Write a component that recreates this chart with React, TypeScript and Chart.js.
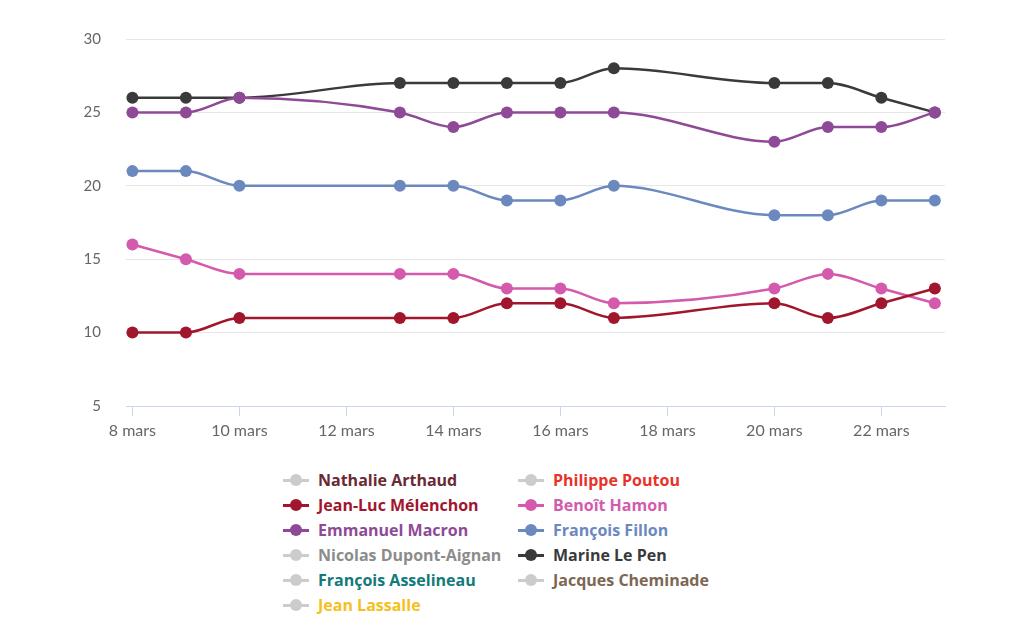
import React, { useEffect, useRef } from "react";
import { Chart, registerables } from "chart.js";

Chart.register(...registerables);

const days = [8, 9, 10, 13, 14, 15, 16, 17, 20, 21, 22, 23];
const tickDays = [8, 10, 12, 14, 16, 18, 20, 22];
const yTicks = [5, 10, 15, 20, 25, 30];

const lePen = [26, 26, 26, 27, 27, 27, 27, 28, 27, 27, 26, 25];
const macron = [25, 25, 26, 25, 24, 25, 25, 25, 23, 24, 24, 25];
const fillon = [21, 21, 20, 20, 20, 19, 19, 20, 18, 18, 19, 19];
const hamon = [16, 15, 14, 14, 14, 13, 13, 12, 13, 14, 13, 12];
const melenchon = [10, 10, 11, 11, 11, 12, 12, 11, 12, 11, 12, 13];

const seriesNames = ["Jean-Luc Mélenchon", "Emmanuel Macron", "Benoît Hamon", "François Fillon", "Marine Le Pen"];
const seriesValues = [melenchon, macron, hamon, fillon, lePen];
const seriesColors = ["#a0162d", "#8e4a96", "#d45aad", "#6b88bf", "#3a3a3a"];

const legendCol1 = [
  { name: "Nathalie Arthaud", color: "#6b2a33", active: false },
  { name: "Jean-Luc Mélenchon", color: "#a0162d", active: true },
  { name: "Emmanuel Macron", color: "#8e4a96", active: true },
  { name: "Nicolas Dupont-Aignan", color: "#8c8c8c", active: false },
  { name: "François Asselineau", color: "#137a7c", active: false },
  { name: "Jean Lassalle", color: "#f5bf1d", active: false },
];
const legendCol2 = [
  { name: "Philippe Poutou", color: "#e8322a", active: false },
  { name: "Benoît Hamon", color: "#d45aad", active: true },
  { name: "François Fillon", color: "#6b88bf", active: true },
  { name: "Marine Le Pen", color: "#3a3a3a", active: true },
  { name: "Jacques Cheminade", color: "#7d6753", active: false },
];

const FONT = "Lato, 'Open Sans', sans-serif";
const LEGEND_FONT = "'Open Sans', Lato, sans-serif";

function LegendItem({ item, left, top }: { item: any; left: number; top: number }) {
  const mk = item.active ? item.color : "#cccccc";
  return (
    <div style={{ position: "absolute", left, top, height: 24, display: "flex", alignItems: "center" }}>
      <div style={{ position: "relative", width: 26, height: 24 }}>
        <div style={{ position: "absolute", left: 0, top: 11, width: 26, height: 2.5, background: mk }} />
        <div style={{ position: "absolute", left: 7, top: 6, width: 12, height: 12, borderRadius: 6, background: mk }} />
      </div>
      <span style={{ marginLeft: 9, fontFamily: LEGEND_FONT, fontWeight: 700, fontSize: 16, color: item.color, whiteSpace: "nowrap" }}>
        {item.name}
      </span>
    </div>
  );
}

export default function App() {
  const ref = useRef<HTMLCanvasElement>(null);
  useEffect(() => {
    if (!ref.current) return;
    const chart = new Chart(ref.current, {
      type: "line",
      data: {
        datasets: seriesNames.map((n, i) => ({
          label: n,
          data: days.map((d, j) => ({ x: d, y: seriesValues[i][j] })),
          borderColor: seriesColors[i],
          backgroundColor: seriesColors[i],
          pointBackgroundColor: seriesColors[i],
          pointBorderWidth: 0,
          pointRadius: 6,
          borderWidth: 2.5,
          cubicInterpolationMode: "monotone" as const,
          fill: false,
        })),
      },
      options: {
        animation: false,
        responsive: false,
        maintainAspectRatio: false,
        layout: { padding: { left: 0, right: 79, top: 38, bottom: 0 } },
        plugins: { legend: { display: false }, tooltip: { enabled: false } },
        scales: {
          x: {
            type: "linear",
            min: 7.88,
            max: 23.19,
            afterBuildTicks: (s: any) => {
              s.ticks = tickDays.map((v) => ({ value: v }));
            },
            afterFit: (s: any) => {
              s.height = 35;
            },
            grid: { display: true, drawOnChartArea: false, drawTicks: true, tickLength: 10, color: "#ccd6eb", lineWidth: 1 },
            border: { display: true, color: "#ccd6eb", width: 1 },
            ticks: {
              padding: 5,
              color: "#666666",
              font: { family: FONT, size: 16 },
              maxRotation: 0,
              autoSkip: false,
              callback: (v: any) => `${v} mars`,
            },
          },
          y: {
            min: 5,
            max: 30,
            afterBuildTicks: (s: any) => {
              s.ticks = yTicks.map((v) => ({ value: v }));
            },
            afterFit: (s: any) => {
              s.width = 126;
            },
            grid: { color: "#e6e6e6", lineWidth: 1, drawTicks: false },
            border: { display: false },
            ticks: {
              padding: 25,
              color: "#666666",
              font: { family: FONT, size: 15 },
            },
          },
        },
      },
    });
    return () => chart.destroy();
  }, []);

  return (
    <div style={{ position: "absolute", left: 0, top: 0, width: 1024, height: 635, background: "#fff" }}>
      <canvas ref={ref} width={1024} height={440} style={{ position: "absolute", left: 0, top: 1, width: 1024, height: 440 }} />
      {legendCol1.map((it, i) => (
        <LegendItem key={it.name} item={it} left={283} top={468 + i * 25} />
      ))}
      {legendCol2.map((it, i) => (
        <LegendItem key={it.name} item={it} left={518} top={468 + i * 25} />
      ))}
    </div>
  );
}
